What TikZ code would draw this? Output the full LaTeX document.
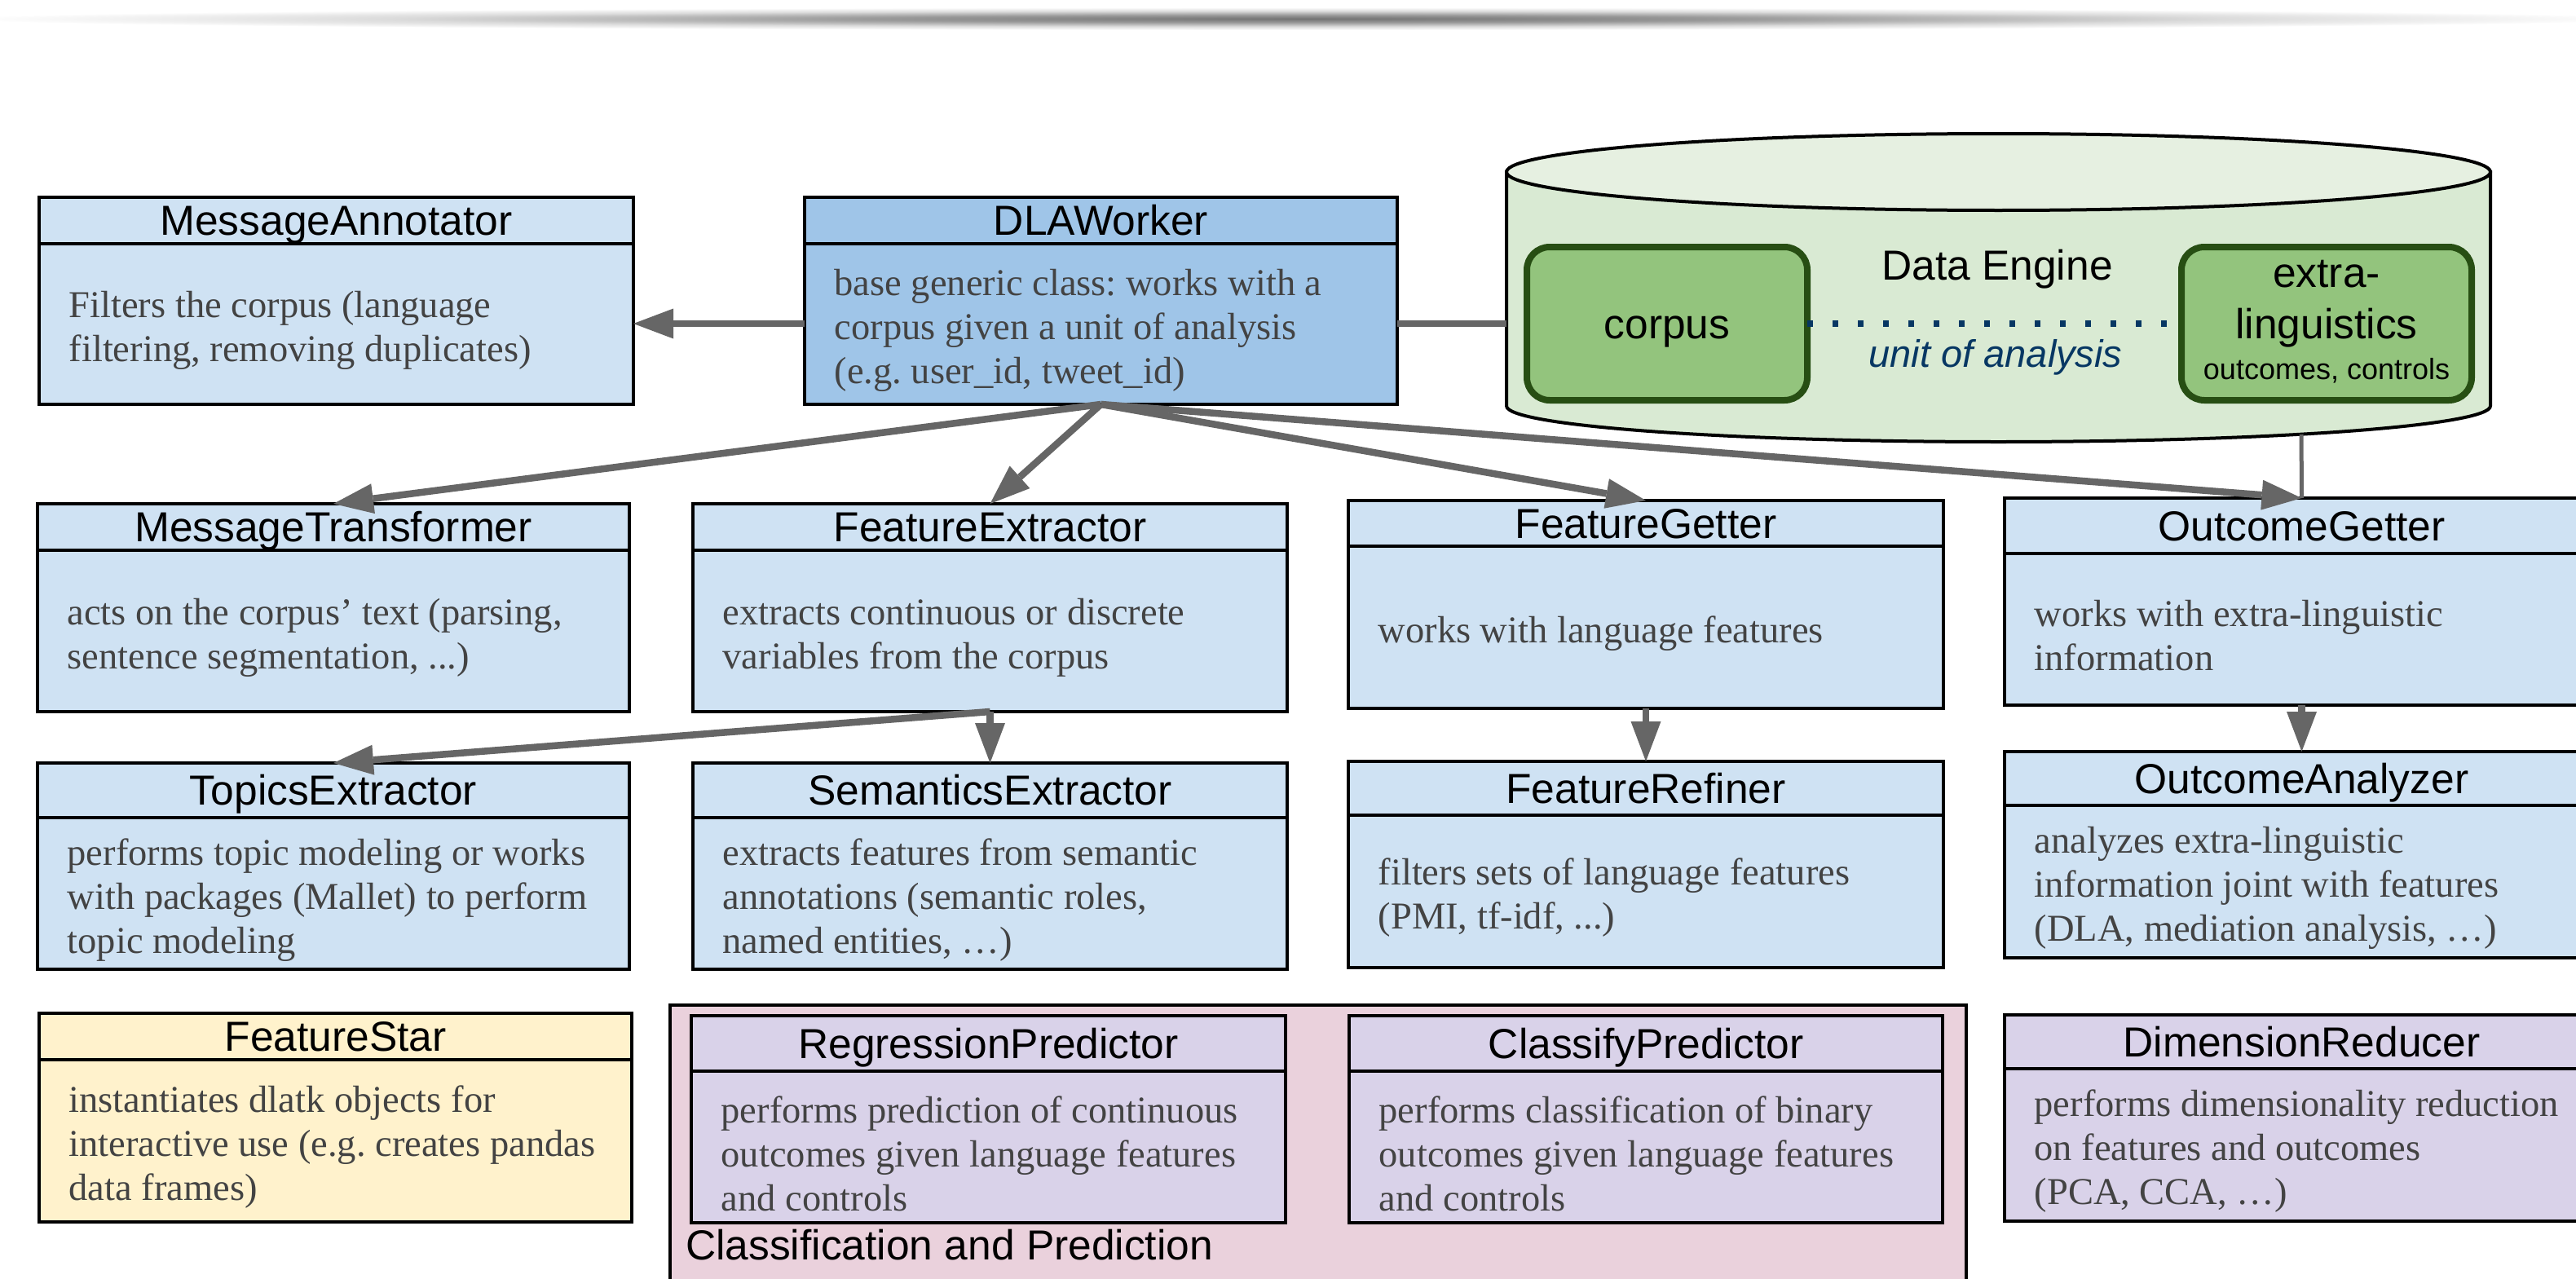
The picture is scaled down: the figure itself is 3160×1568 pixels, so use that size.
\documentclass[tikz,border=0pt]{standalone}
\usepackage{fontspec}
\setmainfont{Liberation Serif}
\newfontfamily\hfont{Liberation Sans}
\usetikzlibrary{arrows.meta,fit}
\frenchspacing
\definecolor{lblue}{HTML}{CFE2F3}
\definecolor{dblue}{HTML}{9FC5E8}
\definecolor{lav}{HTML}{D9D2E9}
\definecolor{lyel}{HTML}{FFF2CC}
\definecolor{lpink}{HTML}{EAD1DC}
\definecolor{cylbody}{HTML}{D9EAD3}
\definecolor{cyltop}{HTML}{E6F0E1}
\definecolor{gbox}{HTML}{93C47D}
\definecolor{gdark}{HTML}{274E13}
\definecolor{arrg}{HTML}{666666}
\definecolor{txtg}{HTML}{434343}
\definecolor{navy}{HTML}{073763}
\pgfdeclareradialshading{streak}{\pgfpointorigin}{color(0bp)=(black!55); color(8bp)=(black!40); color(17bp)=(black!14); color(25bp)=(white); color(50bp)=(white)}
\tikzset{
  boxsh/.style={draw=black, line width=4pt, inner sep=0pt, outer sep=0pt},
  divline/.style={draw=black, line width=4pt},
  titletext/.style={font=\hfont\fontsize{51.5}{60}\selectfont, inner sep=0pt, text=black},
  bodytext/.style={font=\fontsize{46.5}{54}\selectfont\frenchspacing, inner sep=0pt, text=txtg, align=left},
  arr/.style={draw=arrg, line width=8.5pt, -{Triangle[length=49pt,width=37pt,line width=0pt]}},
  conn/.style={draw=arrg, line width=8.5pt},
  thinconn/.style={draw=arrg, line width=5pt},
  gbx/.style={draw=gdark, fill=gbox, line width=8pt, rounded corners=28pt, inner sep=0pt, outer sep=0pt},
}
\newcommand\umlbox[9]{%
  \pgfmathsetmacro\ubcx{(#2+#5)/2}%
  \pgfmathsetmacro\ubhy{(#3+#4)/2+18.4}%
  \pgfmathsetmacro\ubby{(#4+#6)/2+8}%
  \pgfmathsetmacro\ubtx{#2+36.5}%
  \node[boxsh, fill=#7, fit={(#2,#3)(#5,#6)}] (#1) {};
  \draw[divline] (#2,#4) -- (#5,#4);
  \node[titletext, anchor=base] (#1-title) at (\ubcx,\ubhy) {#8};
  \node[bodytext, anchor=west] (#1-body) at (\ubtx,\ubby) {#9};
}
\begin{document}
\begin{tikzpicture}[x=1pt,y=-1pt]
\useasboundingbox (0,0) rectangle (3160,1568);
\clip (0,0) rectangle (3160,1568);
% top shadow streak
\shade[shading=streak] (1600,23) ellipse[x radius=1650, y radius=14];
% data engine cylinder
\draw[line width=4pt, fill=cylbody] (1848,211) -- (1848,498)
  arc[start angle=180, end angle=0, x radius=603.5, y radius=44] -- (3055,211) -- cycle;
\draw[line width=4pt, fill=cyltop] (2451.5,211) ellipse[x radius=603.5, y radius=47];
\coordinate (cylL) at (1848,397);
\coordinate (cylB) at (2823,533);
\node[gbx, fit={(1873,303)(2217,491)}] (corpus) {};
\node[gbx, fit={(2676,303)(3032,491)}] (extra) {};
\node[titletext, anchor=base] (corpustxt) at (2045,415) {corpus};
\node[titletext, anchor=base] (extratxt1) at (2854,352) {extra-};
\node[titletext, anchor=base] (extratxt2) at (2854,415) {linguistics};
\node[anchor=base, inner sep=0pt, font=\hfont\fontsize{36}{40}\selectfont] (extratxt3) at (2854,465) {outcomes, controls};
\node[titletext, anchor=base] (dataengine) at (2450,343) {Data Engine};
\node[anchor=base, inner sep=0pt, text=navy, font=\hfont\itshape\fontsize{47}{52}\selectfont] (unit) at (2448,450) {unit of analysis};
\draw[navy, line width=7.5pt, dash pattern=on 7pt off 24pt] (corpus.east |- cylL) -- (extra.west |- cylL);
% classification group
\node[boxsh, fill=lpink, fit={(822,1233)(2412,1620)}] (CP) {};
\node[titletext, anchor=base west] (CPlabel) at (841,1545) {Classification and Prediction};
% class boxes
\umlbox{MA}{48}{242}{299}{777}{496}{lblue}{MessageAnnotator}{Filters the corpus (language\\filtering, removing duplicates)}
\umlbox{DLA}{987}{242}{299}{1714}{496}{dblue}{DLAWorker}{base generic class: works with a\\corpus given a unit of analysis\\(e.g. user\_id, tweet\_id)}
\umlbox{MT}{46}{618}{675}{772}{873}{lblue}{MessageTransformer}{acts on the corpus’ text (parsing,\\sentence segmentation, ...)}
\umlbox{FE}{850}{618}{675}{1579}{873}{lblue}{FeatureExtractor}{extracts continuous or discrete\\variables from the corpus}
\umlbox{FG}{1654}{614}{670}{2384}{869}{lblue}{FeatureGetter}{works with language features}
\umlbox{OG}{2459}{611}{679}{3188}{865}{lblue}{OutcomeGetter}{works with extra-linguistic\\information}
\umlbox{TE}{46}{936}{1003}{772}{1189}{lblue}{TopicsExtractor}{performs topic modeling or works\\with packages (Mallet) to perform\\topic modeling}
\umlbox{SE}{850}{936}{1003}{1579}{1189}{lblue}{SemanticsExtractor}{extracts features from semantic\\annotations (semantic roles,\\named entities, …)}
\umlbox{FR}{1654}{934}{1000}{2384}{1187}{lblue}{FeatureRefiner}{filters sets of language features\\(PMI, tf-idf, ...)}
\umlbox{OA}{2459}{922}{988}{3188}{1175}{lblue}{OutcomeAnalyzer}{analyzes extra-linguistic\\information joint with features\\(DLA, mediation analysis, …)}
\umlbox{FS}{48}{1243}{1300}{775}{1499}{lyel}{FeatureStar}{instantiates dlatk objects for\\interactive use (e.g. creates pandas\\data frames)}
\umlbox{RP}{848}{1246}{1314}{1577}{1500}{lav}{RegressionPredictor}{performs prediction of continuous\\outcomes given language features\\and controls}
\umlbox{CLP}{1655}{1246}{1314}{2383}{1500}{lav}{ClassifyPredictor}{performs classification of binary\\outcomes given language features\\and controls}
\umlbox{DR}{2459}{1245}{1311}{3188}{1498}{lav}{DimensionReducer}{performs dimensionality reduction\\on features and outcomes\\(PCA, CCA, …)}
% connectors
\draw[conn] (DLA.east |- cylL) -- (cylL);
\draw[arr] (DLA.west |- cylL) -- (MA.east |- cylL);
\draw[arr] (DLA.south) -- (MT.north);
\draw[arr] (DLA.south) -- (FE.north);
\draw[arr] (DLA.south) -- (FG.north);
\draw[arr] (DLA.south) -- (OG.north);
\draw[thinconn] (cylB) -- (OG.north);
\draw[arr] (FE.south) -- (TE.north);
\draw[arr] (FE.south) -- (SE.north);
\draw[arr] (FG.south) -- (FR.north);
\draw[arr] (OG.south) -- (OA.north);
\end{tikzpicture}
\end{document}
